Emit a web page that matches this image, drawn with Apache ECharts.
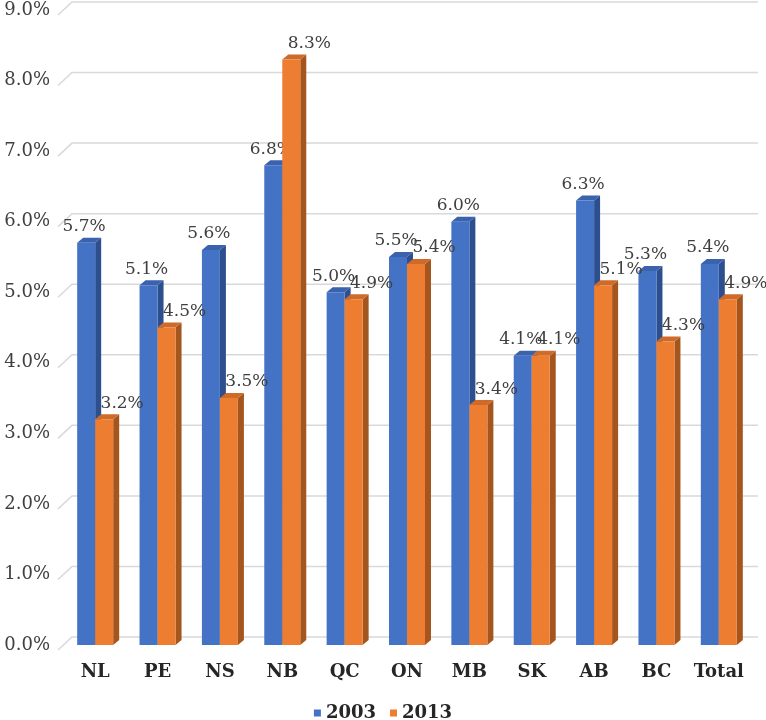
<!DOCTYPE html>
<html>
<head>
<meta charset="utf-8">
<script src="https://cdn.jsdelivr.net/npm/echarts@6/dist/echarts.min.js"></script>
<style>
html,body{margin:0;padding:0;background:#fff;}
#chart{width:766px;height:720px;}
</style>
</head>
<body>
<div id="chart"></div>
<script>
var categories = ['NL','PE','NS','NB','QC','ON','MB','SK','AB','BC','Total'];
var values2003 = [5.7,5.1,5.6,6.8,5.0,5.5,6.0,4.1,6.3,5.3,5.4];
var values2013 = [3.2,4.5,3.5,8.3,4.9,5.4,3.4,4.1,5.1,4.3,4.9];
var yTicks = [0,1,2,3,4,5,6,7,8,9];

var FONT = 'DejaVu Serif';
var BAR_W = 18, DX = 6, DY = -5;

function makeBarRenderer(side, colors, labelDx) {
  return function (params, api) {
    var ci = api.value(0), v = api.value(1);
    var top = api.coord([ci, v]);
    var base = api.coord([ci, 0]);
    var x0 = side < 0 ? top[0] - BAR_W : top[0];
    var x1 = x0 + BAR_W;
    var yT = top[1], yB = base[1];
    return {
      type: 'group',
      children: [
        { type: 'polygon', shape: { points: [[x1, yT], [x1 + DX, yT + DY], [x1 + DX, yB + DY], [x1, yB]] }, style: { fill: colors.side } },
        { type: 'polygon', shape: { points: [[x0, yT], [x0 + DX, yT + DY], [x1 + DX, yT + DY], [x1, yT]] }, style: { fill: colors.top } },
        { type: 'rect', shape: { x: x0, y: yT, width: BAR_W, height: yB - yT }, style: { fill: colors.front } },
        { type: 'text', x: (x0 + x1) / 2 + labelDx, y: yT - 16, style: { text: v.toFixed(1) + '%', align: 'center', verticalAlign: 'middle', font: '17px "' + FONT + '"', fill: '#404040' } }
      ]
    };
  };
}

var chart = echarts.init(document.getElementById('chart'), null, { renderer: 'canvas' });
chart.setOption({
  animation: false,
  backgroundColor: '#ffffff',
  grid: { left: 64, right: 16, top: 10, bottom: 75 },
  xAxis: {
    type: 'category',
    data: categories,
    axisLine: { show: false },
    axisTick: { show: false },
    axisLabel: { interval: 0, margin: 18, fontFamily: FONT, fontWeight: 'bold', fontSize: 18, color: '#262626' }
  },
  yAxis: {
    type: 'value',
    min: 0, max: 9, interval: 1,
    axisLine: { show: false },
    axisTick: { show: false },
    splitLine: { show: false },
    axisLabel: { margin: 14, fontFamily: FONT, fontSize: 18, color: '#404040', padding: [10, 0, 0, 0],
      formatter: function (v) { return v.toFixed(1) + '%'; } }
  },
  legend: {
    data: [
      { name: '2003', itemStyle: { color: '#4472c4' } },
      { name: '2013', itemStyle: { color: '#ed7d31' } }
    ],
    top: 699, left: 'center',
    icon: 'rect', itemWidth: 7, itemHeight: 7, itemGap: 14,
    textStyle: { fontFamily: FONT, fontWeight: 'bold', fontSize: 18, color: '#262626' }
  },
  series: [
    {
      name: 'grid', type: 'custom', z: 1, silent: true,
      data: yTicks.map(function (t) { return [0, t]; }),
      renderItem: function (params, api) {
        var y = api.coord([0, api.value(1)])[1];
        var cs = params.coordSys;
        return {
          type: 'polyline',
          shape: { points: [[cs.x - 6, y + 5], [cs.x + 8, y - 8], [cs.x + cs.width + 8, y - 8]] },
          style: { stroke: '#d9d9d9', lineWidth: 1.5, fill: null }
        };
      }
    },
    {
      name: '2003', type: 'custom', z: 2,
      itemStyle: { color: '#4472c4' },
      data: values2003.map(function (v, i) { return [i, v]; }),
      renderItem: makeBarRenderer(-1, { front: '#4472c4', side: '#2d4f8e', top: '#3a62ad' }, -2)
    },
    {
      name: '2013', type: 'custom', z: 3,
      itemStyle: { color: '#ed7d31' },
      data: values2013.map(function (v, i) { return [i, v]; }),
      renderItem: makeBarRenderer(1, { front: '#ed7d31', side: '#a5561f', top: '#d06a28' }, 18)
    }
  ]
});
</script>
</body>
</html>
